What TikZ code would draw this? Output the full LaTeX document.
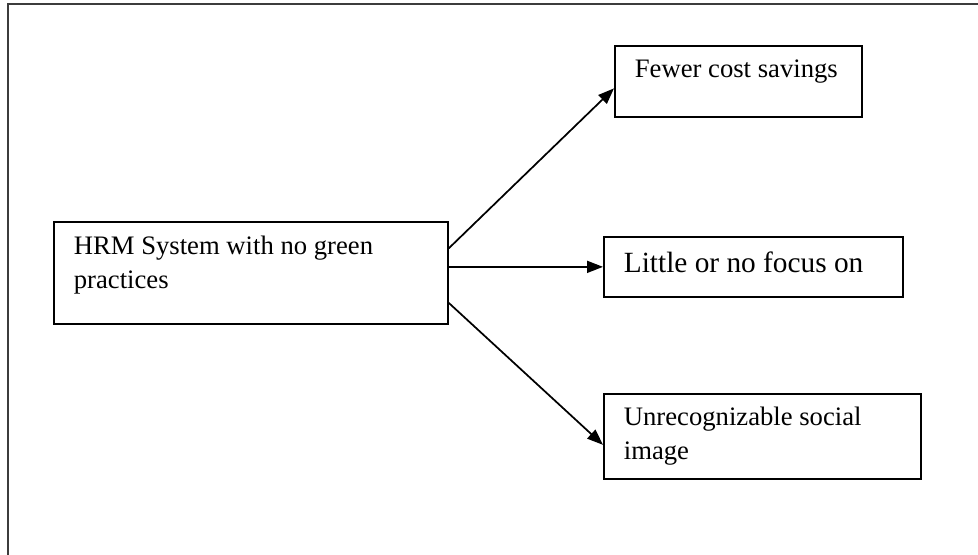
\documentclass[tikz,border=0pt]{standalone}
\usepackage{fontspec}
\setmainfont{Liberation Serif}
\usetikzlibrary{arrows.meta,calc}

\tikzset{every picture/.style={line width=1.3pt}}
\tikzset{
  box/.style={draw, rectangle, anchor=north west, inner sep=0pt},
  txt/.style={anchor=base west, align=left, inner sep=0pt, font=\fontsize{20}{25.5}\selectfont},
  conn/.style={-{Triangle[length=12pt,width=9pt]}}
}

\begin{document}
\begin{tikzpicture}[x=0.75pt,y=0.75pt,yscale=-1,xscale=1]
\useasboundingbox (0,0) rectangle (978,555);

%Shape: Frame
\draw [color={rgb, 255:red, 60; green, 60; blue, 60 }, line width=1.5pt] (8,555) -- (8,4.5) -- (978,4.5) ;

%Shape: Rectangle [id:hrm]
\node [box, minimum width=295.5pt, minimum height=76.5pt] (hrm) at (53,221) {};
%Shape: Rectangle [id:cost]
\node [box, minimum width=185.25pt, minimum height=53.25pt] (cost) at (614,45) {};
%Shape: Rectangle [id:focus]
\node [box, minimum width=224.25pt, minimum height=45pt] (focus) at (603,236) {};
%Shape: Rectangle [id:image]
\node [box, minimum width=237.75pt, minimum height=63.75pt] (image) at (603,393) {};

% Text Node (base = last line)
\node [txt] (hrmtxt) at ($(hrm.north west)+(20,68)$) {HRM System with no green\\practices};
% Text Node
\node [txt] (costtxt) at ($(cost.north west)+(20,33)$) {Fewer cost savings};
% Text Node
\node [txt, font=\fontsize{22}{27}\selectfont] (focustxt) at ($(focus.north west)+(20,37)$) {Little or no focus on};
% Text Node (base = last line)
\node [txt] (imagetxt) at ($(image.north west)+(20,67)$) {Unrecognizable social\\image};

%Straight Lines
\draw [conn] ($(hrm.east)+(0,-24.5)$) -- ($(cost.west)+(0,7)$) ;
\draw [conn] (hrm.east |- focus.west) -- (focus.west) ;
\draw [conn] ($(hrm.east)+(0,30)$) -- ($(image.west)+(0,8.5)$) ;

\end{tikzpicture}
\end{document}
